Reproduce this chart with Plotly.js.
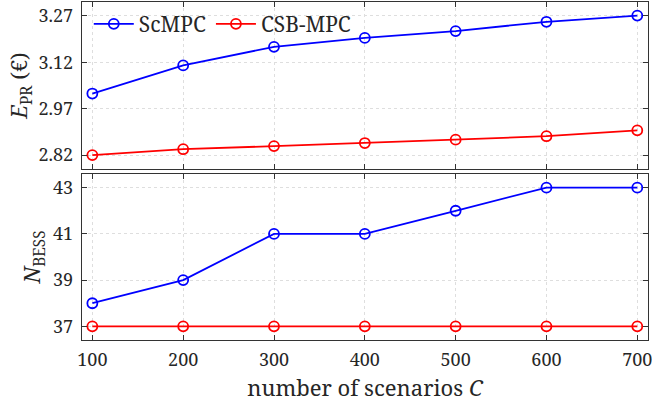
<!DOCTYPE html>
<html>
<head>
<meta charset="utf-8">
<script src="https://cdn.plot.ly/plotly-3.0.1.min.js"></script>
<style>
  html, body { margin: 0; padding: 0; background: #fff; }
  #chart { width: 652px; height: 404px; }
</style>
</head>
<body>
<div id="chart"></div>
<script>
// Number of scenarios C
const scenarios = [100, 200, 300, 400, 500, 600, 700];

// Expected price E_PR (€)
const eprScMPC  = [3.019, 3.110, 3.170, 3.199, 3.221, 3.251, 3.271];
const eprCSBMPC = [2.820, 2.839, 2.849, 2.859, 2.870, 2.881, 2.900];

// Number of BESS units
const nbessScMPC  = [38, 39, 41, 41, 42, 43, 43];
const nbessCSBMPC = [37, 37, 37, 37, 37, 37, 37];

const eprTicks   = [2.82, 2.97, 3.12, 3.27];
const nbessTicks = [37, 39, 41, 43];
const xTicks     = [100, 200, 300, 400, 500, 600, 700];

const FONT = 'Noto Serif';
const TEXT = '#262626';
const BLUE = '#0000ff';
const RED  = '#ff0000';

function series(x, y, color, name, xa, ya, showlegend) {
  return {
    x: x, y: y, name: name, type: 'scatter', mode: 'lines+markers',
    xaxis: xa, yaxis: ya, showlegend: showlegend,
    line: { color: color, width: 1.8 },
    marker: { symbol: 'circle-open', size: 10, color: color, line: { width: 1.8, color: color } }
  };
}

const traces = [
  series(scenarios, eprScMPC,  BLUE, 'ScMPC',   'x2', 'y2', true),
  series(scenarios, eprCSBMPC, RED,  'CSB-MPC', 'x2', 'y2', true),
  series(scenarios, nbessScMPC,  BLUE, 'ScMPC',   'x', 'y', false),
  series(scenarios, nbessCSBMPC, RED,  'CSB-MPC', 'x', 'y', false)
];

const axisCommon = {
  showline: true, linecolor: '#333333', linewidth: 1.2, mirror: 'ticks',
  ticks: 'inside', ticklen: 5, tickwidth: 1, tickcolor: '#333333',
  showgrid: true, gridcolor: '#dedede', griddash: 'dot', gridwidth: 1,
  zeroline: false, ticklabeloverflow: 'allow',
  tickfont: { family: FONT, size: 18, color: TEXT }
};

const layout = {
  width: 652, height: 404,
  margin: { l: 82, r: 4, t: 2, b: 64 },
  paper_bgcolor: '#ffffff', plot_bgcolor: '#ffffff',
  font: { family: FONT, color: TEXT },
  showlegend: true,
  legend: {
    orientation: 'h', x: 0.012, y: 0.995, xanchor: 'left', yanchor: 'top',
    bgcolor: 'rgba(255,255,255,0)', borderwidth: 0,
    font: { family: FONT, size: 21, color: TEXT },
    itemwidth: 40, tracegroupgap: 0,
    itemclick: false
  },
  xaxis: Object.assign({}, axisCommon, {
    anchor: 'y', domain: [0, 1], range: [88.6, 711.8],
    tickmode: 'array', tickvals: xTicks, ticklabelstandoff: 3,
    title: { text: 'number of scenarios <i>C</i>', font: { family: FONT, size: 22, color: TEXT }, standoff: 10 }
  }),
  xaxis2: Object.assign({}, axisCommon, {
    anchor: 'y2', domain: [0, 1], matches: 'x', range: [88.6, 711.8],
    tickmode: 'array', tickvals: xTicks, showticklabels: false
  }),
  yaxis: Object.assign({}, axisCommon, {
    anchor: 'x', domain: [0, 0.4911], range: [36.41, 43.59],
    tickmode: 'array', tickvals: nbessTicks, ticklabelstandoff: 4,
    title: { text: '<i>N</i><sub>BESS</sub>', font: { family: FONT, size: 22, color: TEXT }, standoff: 6 }
  }),
  yaxis2: Object.assign({}, axisCommon, {
    anchor: 'x2', domain: [0.5059, 1], range: [2.775, 3.315],
    tickmode: 'array', tickvals: eprTicks, tickformat: '.2f', ticklabelstandoff: 4,
    title: { text: '<i>E</i><sub>PR</sub> (€)', font: { family: FONT, size: 22, color: TEXT }, standoff: 4 }
  })
};

Plotly.newPlot('chart', traces, layout, { staticPlot: true, displayModeBar: false });
</script>
</body>
</html>
